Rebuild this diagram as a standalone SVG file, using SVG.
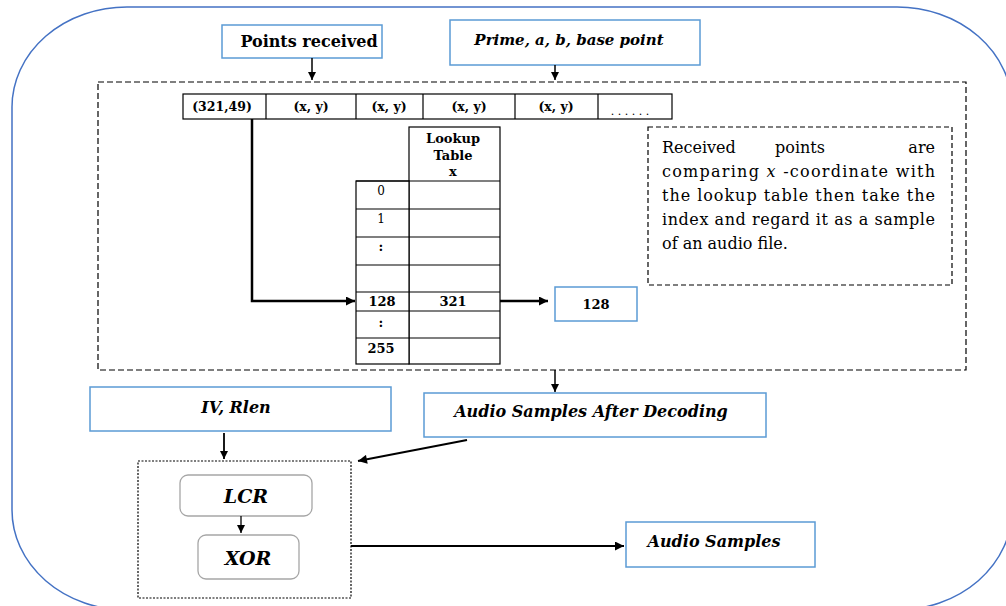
<svg xmlns="http://www.w3.org/2000/svg" width="1006" height="606" viewBox="0 0 1006 606">
<style>
.blue{fill:#fff;stroke:#5b9bd5;stroke-width:1.5}
.cell{fill:#fff;stroke:#000;stroke-width:1.2}
.gray{fill:#fff;stroke:#a6a6a6;stroke-width:1.3}
.ln{fill:none;stroke:#000}
.t{font-family:"DejaVu Serif","Liberation Serif",serif;fill:#000}
.b{font-weight:bold}
.i{font-style:italic}
.mid{text-anchor:middle}
</style>
<defs>
<marker id="ah" viewBox="0 0 10 10" refX="10" refY="5" markerWidth="10" markerHeight="9" markerUnits="userSpaceOnUse" orient="auto"><path d="M0,0L10,5L0,10z" fill="#000"/></marker>
<marker id="ahs" viewBox="0 0 10 10" refX="10" refY="5" markerWidth="8" markerHeight="8" markerUnits="userSpaceOnUse" orient="auto"><path d="M0,0L10,5L0,10z" fill="#000"/></marker>
</defs>
<rect width="1006" height="606" fill="#fff"/>
<path id="outer" d="M127,7 H897 A115,100 0 0 1 1012,107 V510 A115,100 0 0 1 897,610 H127 A115,100 0 0 1 12,510 V107 A115,100 0 0 1 127,7 Z" fill="none" stroke="#4472c4" stroke-width="1.5"/>
<rect id="mainbox" x="98" y="82" width="868" height="288" fill="none" stroke="#000" stroke-width="1.2" stroke-dasharray="6,3"/>
<g id="points-received"><rect class="blue" x="222" y="25" width="160" height="33"/><text class="t b mid" x="309" y="47" font-size="16">Points received</text></g>
<g id="prime"><rect class="blue" x="450" y="20" width="250" height="45"/><text class="t b i mid" x="569" y="45" font-size="15">Prime, a, b, base point</text></g>
<g id="row">
<rect class="cell" x="183" y="94" width="489" height="25"/>
<path class="ln" stroke-width="1.2" d="M266,94V119M356,94V119M423,94V119M515,94V119M598,94V119"/>
<g class="t b mid" font-size="12.5">
<text x="222" y="111">(321,49)</text><text x="311" y="111">(x, y)</text><text x="389" y="111">(x, y)</text><text x="469" y="111">(x, y)</text><text x="556" y="111">(x, y)</text>
</g>
<text class="t mid" x="630" y="115" font-size="11">. . . . . .</text>
</g>
<g id="lookup">
<rect class="cell" x="409" y="127" width="91" height="237"/>
<rect class="cell" x="356" y="181" width="53" height="183"/>
<path class="ln" stroke-width="1.2" d="M356,181H500M356,209H500M356,237H500M356,265H500M356,292H500M356,311H500M356,338H500"/>
<g class="t b mid" font-size="13">
<text x="453" y="143">Lookup</text><text x="453" y="160">Table</text><text x="453" y="176">x</text>
<text x="381" y="195" font-weight="normal" font-size="12">0</text><text x="381" y="223" font-weight="normal" font-size="12">1</text><text x="381" y="251">:</text>
<text x="382" y="306">128</text><text x="453" y="306">321</text>
<text x="381" y="327">:</text><text x="381" y="353">255</text>
</g>
</g>
<g id="result"><rect class="blue" x="555" y="287" width="82" height="34"/><text class="t b mid" x="596" y="309" font-size="13">128</text></g>
<g id="note">
<rect x="648" y="127" width="304" height="158" fill="none" stroke="#000" stroke-width="1.2" stroke-dasharray="5,3"/>
<g class="t" font-size="16">
<text x="662" y="153">Received</text><text x="800" y="153" text-anchor="middle">points</text><text x="935" y="153" text-anchor="end">are</text>
<text x="662" y="177" textLength="273" lengthAdjust="spacing">comparing <tspan font-style="italic">x</tspan> -coordinate with</text>
<text x="662" y="201" textLength="273" lengthAdjust="spacing">the lookup table then take the</text>
<text x="662" y="225" textLength="273" lengthAdjust="spacing">index and regard it as a sample</text>
<text x="662" y="249">of an audio file.</text>
</g>
</g>
<g id="iv-rlen"><rect class="blue" x="90" y="387" width="301" height="44"/><text class="t b i mid" x="236" y="413" font-size="16">IV, Rlen</text></g>
<g id="decoded"><rect class="blue" x="424" y="393" width="342" height="44"/><text class="t b i mid" x="591" y="417" font-size="16">Audio Samples After Decoding</text></g>
<g id="cipher">
<rect x="138" y="461" width="213" height="137" fill="none" stroke="#000" stroke-width="1.2" stroke-dasharray="2,1.5"/>
<g id="lcr"><rect class="gray" x="180" y="475" width="132" height="41" rx="8"/><text class="t b i mid" x="246" y="503" font-size="19">LCR</text></g>
<g id="xor"><rect class="gray" x="198" y="535" width="101" height="44" rx="8"/><text class="t b i mid" x="248" y="565" font-size="19">XOR</text></g>
</g>
<g id="output"><rect class="blue" x="626" y="522" width="189" height="45"/><text class="t b i mid" x="714" y="547" font-size="16">Audio Samples</text></g>
<g id="connectors" class="ln">
<path d="M312,58V80" stroke-width="1.5" marker-end="url(#ahs)"/>
<path d="M555,65V80" stroke-width="1.5" marker-end="url(#ahs)"/>
<path d="M252,119V301H355" stroke-width="2.5" marker-end="url(#ah)"/>
<path d="M500,301H548" stroke-width="2.5" marker-end="url(#ah)"/>
<path d="M555,370V392" stroke-width="1.5" marker-end="url(#ahs)"/>
<path d="M467,440L358,461" stroke-width="2" marker-end="url(#ah)"/>
<path d="M224,433V459" stroke-width="1.8" marker-end="url(#ahs)"/>
<path d="M241,516V533" stroke-width="1.3" marker-end="url(#ahs)"/>
<path d="M351,546H624" stroke-width="2.2" marker-end="url(#ah)"/>
</g>
</svg>
